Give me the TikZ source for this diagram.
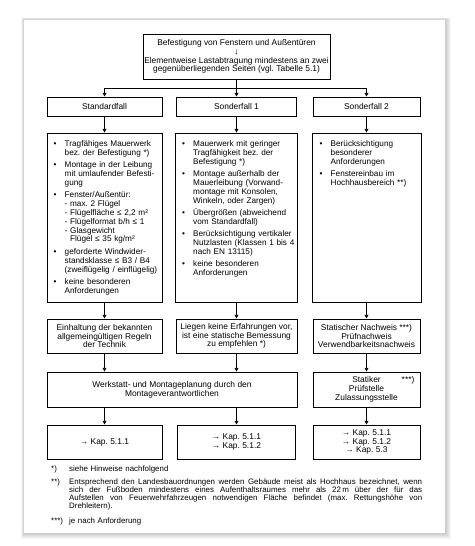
\documentclass[tikz,border=0pt]{standalone}
\usepackage{fontspec}
\setmainfont{Liberation Sans}
\usetikzlibrary{arrows.meta}
\frenchspacing
\newcommand{\boxfont}{\fontsize{8.4}{8.7}\selectfont\lineskiplimit=-3pt\lineskip=0pt\relax}
\newcommand{\listfont}{\fontsize{8.2}{8.8}\selectfont\lineskiplimit=-3pt\lineskip=0pt\relax}
\newcommand{\notefont}{\fontsize{7.9}{7.9}\selectfont\lineskiplimit=-3pt\lineskip=0pt\relax}
\newcommand{\bitem}[1]{\par\hangindent=11pt\hangafter=1\noindent
\makebox[11pt][l]{\textbullet}{\let\\\newline#1}\par\vspace{3.7pt}}
\tikzset{
box/.style={draw, line width=1pt, align=center, inner sep=0pt},
list/.style={anchor=north west, inner sep=0pt, align=left, text width=#1, font=\listfont},
arr/.style={-{Triangle[length=3.6pt,width=3.8pt]}, line width=0.7pt},
note/.style={anchor=base west, inner sep=0pt, font=\notefont}
}
\begin{document}
\begin{tikzpicture}[x=1pt,y=-1pt,font=\boxfont]
\useasboundingbox (0,0) rectangle (474,546);
\fill[white] (0,0) rectangle (474,546);
% page and its shadow
\foreach \s in {1,...,6} {
\fill[black,opacity=0.035] (24-\s*0.5,20-\s*0.4) rectangle (445+\s,533+\s);}
\fill[white] (24,20) rectangle (445,533);
% head
\node[box, minimum width=187, minimum height=45] (top) at (236.5,56.5)
{Befestigung von Fenstern und Außentüren\\↓\\Elementweise Lastabtragung mindestens an zwei\\gegenüberliegenden Seiten (vgl. Tabelle 5.1)};
\coordinate (split) at (236.5,88);
% cases
\node[box, minimum width=115, minimum height=19] (std) at (104.5,106.5) {Standardfall};
\node[box, minimum width=120, minimum height=19] (sf1) at (236.5,106.5) {Sonderfall 1};
\node[box, minimum width=107, minimum height=19] (sf2) at (366.5,106.5) {Sonderfall 2};
% lists
\node[box, minimum width=115, minimum height=169] (listA) at (104.5,217.5) {};
\node[box, minimum width=122, minimum height=169] (listB) at (236.5,217.5) {};
\node[box, minimum width=109, minimum height=169] (listC) at (366.5,217.5) {};
\node[list=107pt] (textA) at ([shift={(7,5)}]listA.north west) {%
\bitem{Tragfähiges Mauerwerk\\bez. der Befestigung *)}
\bitem{Montage in der Leibung\\mit umlaufender Befesti-\\gung}
\bitem{Fenster/Außentür:\\- max. 2 Flügel\\- Flügelfläche ≤ 2,2 m²\\- Flügelformat b/h ≤ 1\\- Glasgewicht\\\phantom{- }Flügel ≤ 35 kg/m²}
\bitem{geforderte Windwider-\\standsklasse ≤ B3 / B4\\(zweiflügelig / einflügelig)}
\bitem{keine besonderen\\Anforderungen}};
\node[list=114pt] (textB) at ([shift={(7,5)}]listB.north west) {%
\bitem{Mauerwerk mit geringer\\Tragfähigkeit bez. der\\Befestigung *)}
\bitem{Montage außerhalb der\\Mauerleibung (Vorwand-\\montage mit Konsolen,\\Winkeln, oder Zargen)}
\bitem{Übergrößen (abweichend\\vom Standardfall)}
\bitem{Berücksichtigung vertikaler\\Nutzlasten (Klassen 1 bis 4\\nach EN 13115)}
\bitem{keine besonderen\\Anforderungen}};
\node[list=99pt] (textC) at ([shift={(8,5)}]listC.north west) {%
\bitem{Berücksichtigung\\besonderer\\Anforderungen}
\bitem{Fenstereinbau im\\Hochhausbereich **)}};
% rules
\node[box, minimum width=115, minimum height=34] (ruleA) at (104.5,336)
{Einhaltung der bekannten\\allgemeingültigen Regeln\\der Technik};
\node[box, minimum width=121, minimum height=34] (ruleB) at (236.5,336)
{Liegen keine Erfahrungen vor,\\ist eine statische Bemessung\\zu empfehlen *)};
\node[box, minimum width=107, minimum height=34] (ruleC) at (366.5,336)
{Statischer Nachweis ***)\\Prüfnachweis\\Verwendbarkeitsnachweis};
% planning
\node[box, minimum width=250, minimum height=35] (werk) at (172,389.5)
{Werkstatt- und Montageplanung durch den\\Montageverantwortlichen};
\node[box, minimum width=107, minimum height=35] (stat) at (366.5,389.5)
{Statiker\rlap{\hspace{21pt}***)}\\Prüfstelle\\Zulassungsstelle};
% chapters
\node[box, minimum width=115, minimum height=34] (kapA) at (104.5,442) {→ Kap. 5.1.1};
\node[box, minimum width=118, minimum height=34] (kapB) at (236.5,442) {→ Kap. 5.1.1\\→ Kap. 5.1.2};
\node[box, minimum width=107, minimum height=34] (kapC) at (366.5,442) {→ Kap. 5.1.1\\→ Kap. 5.1.2\\→ Kap. 5.3};
% arrows
\draw[arr] (top.south) -- (sf1.north);
\draw[arr] (split) -| (std.north);
\draw[arr] (split) -| (sf2.north);
\foreach \a/\b in {std/listA,sf1/listB,sf2/listC,listA/ruleA,listB/ruleB,listC/ruleC,ruleC/stat,stat/kapC} {
\draw[arr] (\a.south) -- (\b.north);}
\draw[arr] (ruleA.south) -- (ruleA.south |- werk.north);
\draw[arr] (ruleB.south) -- (ruleB.south |- werk.north);
\draw[arr] (kapA.north |- werk.south) -- (kapA.north);
\draw[arr] (kapB.north |- werk.south) -- (kapB.north);
% notes
\node[note] (m1) at (51,471.5) {*)};
\node[note, text width=353pt] (n1) at (69,471.5) {siehe Hinweise nachfolgend};
\node[note] (m2) at (51,484.5) {**)};
\node[note, text width=353pt, align=justify] (n2) at (69,484.5)
{Entsprechend den Landesbauordnungen werden Gebäude meist als Hochhaus bezeichnet, wenn\linebreak
sich der Fußboden mindestens eines Aufenthaltsraumes mehr als 22\,m über der für das\linebreak
Aufstellen von Feuerwehrfahrzeugen notwendigen Fläche befindet (max. Rettungshöhe von\linebreak
Drehleitern).};
\node[note] (m3) at (51,523) {***)};
\node[note, text width=353pt] (n3) at (69,523) {je nach Anforderung};
\end{tikzpicture}
\end{document}
